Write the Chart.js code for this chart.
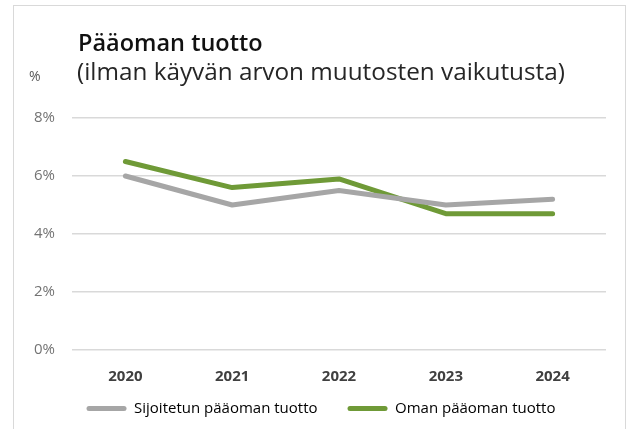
<!DOCTYPE html>
<html>
<head>
<meta charset="utf-8">
<script src="https://cdn.jsdelivr.net/npm/chart.js@4.4.1/dist/chart.umd.min.js"></script>
<style>
  html, body { margin: 0; padding: 0; background: #ffffff; }
  #wrap { width: 630px; height: 429px; }
</style>
</head>
<body>
<div id="wrap"><canvas id="c" width="630" height="429"></canvas></div>
<script>
// Data
const years = ['2020', '2021', '2022', '2023', '2024'];
const sijoitetunTuotto = [6.0, 5.0, 5.5, 5.0, 5.2];
const omanTuotto = [6.5, 5.6, 5.9, 4.7, 4.7];
const seriesNames = ['Sijoitetun pääoman tuotto', 'Oman pääoman tuotto'];
const yTicks = [0, 2, 4, 6, 8];
const titleText = 'Pääoman tuotto';
const subtitleText = '(ilman käyvän arvon muutosten vaikutusta)';
const unitText = '%';

const FONT = '"Open Sans", "Noto Sans", sans-serif';
const GRAY = '#a6a6a6';
const GREEN = '#6f9a37';

const frameAndTitles = {
  id: 'frameAndTitles',
  beforeDraw(chart) {
    const ctx = chart.ctx;
    ctx.save();
    ctx.fillStyle = '#ffffff';
    ctx.fillRect(0, 0, chart.width, chart.height);
    ctx.strokeStyle = '#d9d9d9';
    ctx.lineWidth = 1;
    ctx.strokeRect(13.5, 5.5, 612, 440);
    ctx.restore();
  },
  afterDraw(chart) {
    const ctx = chart.ctx;
    ctx.save();
    ctx.textBaseline = 'alphabetic';
    ctx.textAlign = 'left';
    ctx.fillStyle = '#111111';
    ctx.font = '600 23.5px ' + FONT;
    ctx.fillText(titleText, 78, 51);
    ctx.fillStyle = '#262626';
    ctx.font = '400 24.3px ' + FONT;
    ctx.fillText(subtitleText, 77, 80);
    ctx.fillStyle = '#595959';
    ctx.font = '400 14px ' + FONT;
    ctx.fillText(unitText, 29, 81);
    ctx.restore();
  }
};

const noLabelClip = scale => { scale._computeLabelArea = () => undefined; };

new Chart(document.getElementById('c'), {
  type: 'line',
  data: {
    labels: years,
    datasets: [
      {
        label: seriesNames[0],
        data: sijoitetunTuotto,
        borderColor: GRAY,
        backgroundColor: GRAY,
        borderWidth: 5,
        pointRadius: 0,
        pointHoverRadius: 0,
        tension: 0,
        borderCapStyle: 'round',
        borderJoinStyle: 'round',
        fill: false
      },
      {
        label: seriesNames[1],
        data: omanTuotto,
        borderColor: GREEN,
        backgroundColor: GREEN,
        borderWidth: 5,
        pointRadius: 0,
        pointHoverRadius: 0,
        tension: 0,
        borderCapStyle: 'round',
        borderJoinStyle: 'round',
        fill: false
      }
    ]
  },
  options: {
    responsive: false,
    animation: false,
    devicePixelRatio: 1,
    layout: { padding: { left: 36, right: 24, top: 118, bottom: 3 } },
    plugins: {
      legend: {
        position: 'bottom',
        labels: {
          boxWidth: 40,
          boxHeight: 5,
          padding: 30,
          color: '#595959',
          font: { family: FONT, size: 15 },
          generateLabels(chart) {
            return chart.data.datasets.map((ds, i) => ({
              text: ds.label,
              fillStyle: ds.borderColor,
              strokeStyle: ds.borderColor,
              lineWidth: 0,
              hidden: false,
              datasetIndex: i,
              borderRadius: 2.5
            }));
          }
        }
      },
      tooltip: { enabled: false },
      title: { display: false }
    },
    scales: {
      x: {
        offset: true,
        grid: { display: false, drawTicks: false },
        border: { display: false },
        ticks: {
          padding: 18,
          color: '#404040',
          font: { family: FONT, size: 15, weight: 'bold' }
        },
        afterFit(scale) { scale.height = 21; noLabelClip(scale); }
      },
      y: {
        min: 0,
        max: 8,
        afterBuildTicks(scale) { scale.ticks = yTicks.map(v => ({ value: v })); },
        grid: { color: '#d9d9d9', lineWidth: 1.5, drawTicks: false },
        border: { display: false },
        ticks: {
          padding: 17,
          color: '#737373',
          font: { family: FONT, size: 15 },
          callback: v => v + '%'
        },
        afterFit(scale) { scale.width = 36; noLabelClip(scale); }
      }
    }
  },
  plugins: [frameAndTitles]
});
</script>
</body>
</html>
